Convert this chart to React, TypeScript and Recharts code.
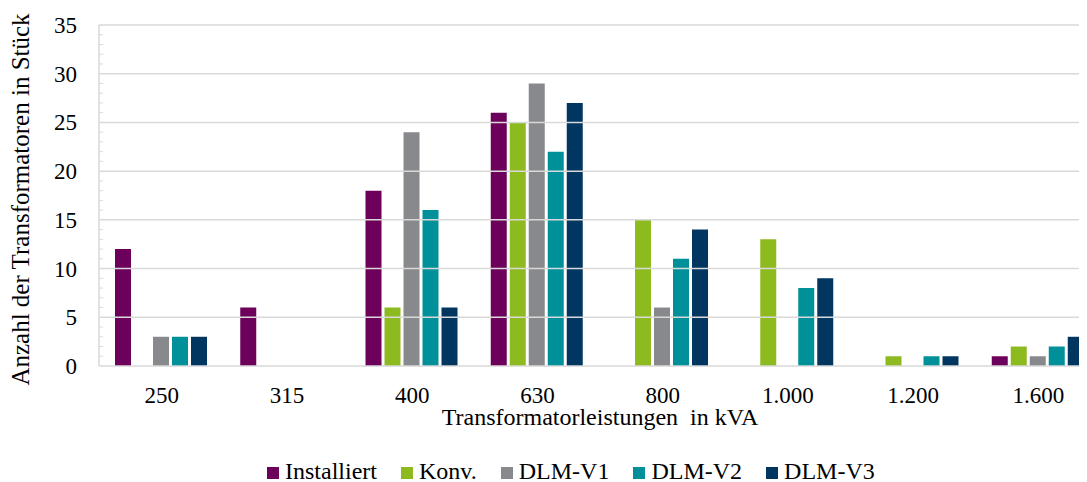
import React from 'react';
import { BarChart, Bar, XAxis, YAxis, ReferenceLine, Legend } from 'recharts';

const categories = ['250', '315', '400', '630', '800', '1.000', '1.200', '1.600'];
const installiert = [12, 6, 18, 26, 0, 0, 0, 1];
const konv = [0, 0, 6, 25, 15, 13, 1, 2];
const dlmV1 = [3, 0, 24, 29, 6, 0, 0, 1];
const dlmV2 = [3, 0, 16, 22, 11, 8, 1, 2];
const dlmV3 = [3, 0, 6, 27, 14, 9, 1, 3];
const yTicks = Array.from({ length: 36 }, (_, i) => i);
const gridValues = [5, 10, 15, 20, 25, 30, 35];

const seriesNames = ['Installiert', 'Konv.', 'DLM-V1', 'DLM-V2', 'DLM-V3'];
const seriesKeys = ['inst', 'konv', 'v1', 'v2', 'v3'];
const colors = ['#6C005A', '#8DBA1F', '#88898D', '#00909A', '#003660'];

const data = categories.map((name, i) => ({
  name,
  inst: installiert[i],
  konv: konv[i],
  v1: dlmV1[i],
  v2: dlmV2[i],
  v3: dlmV3[i],
}));

const FONT = '"Liberation Serif", "Times New Roman", serif';
const GRID = '#D9D9D9';
const Y_TICK_GAP = 22;

const YTick = (props: any) => {
  const { x, y, payload } = props;
  const v = payload.value;
  const lineX = x + Y_TICK_GAP;
  return (
    <g>
      {v % 5 !== 0 && <line x1={lineX} x2={lineX + 4} y1={y} y2={y} stroke={GRID} strokeWidth={1} />}
      {v % 5 === 0 && (
        <text x={x} y={y} dy={8} textAnchor="end" fontFamily={FONT} fontSize={23} fill="#000">
          {v}
        </text>
      )}
    </g>
  );
};

const LegendContent = () => (
  <div
    style={{
      display: 'flex',
      justifyContent: 'flex-start',
      fontFamily: FONT,
      fontSize: 24,
      color: '#000',
      height: 24,
      alignItems: 'center',
      paddingLeft: 259,
      transform: 'translateY(1px)',
      whiteSpace: 'nowrap',
    }}
  >
    {seriesNames.map((n, i) => (
      <div key={n} style={{ display: 'flex', alignItems: 'center', marginRight: i < seriesNames.length - 1 ? 24 : 0 }}>
        <div style={{ width: 12, height: 12, background: colors[i], marginRight: 6, transform: 'translateY(2px)' }} />
        <span>{n}</span>
      </div>
    ))}
  </div>
);

export default function App() {
  return (
    <div style={{ width: 1079, height: 474, overflow: 'hidden' }}>
      <BarChart
        width={1093}
        height={474}
        data={data}
        margin={{ top: 17, right: 0, left: 0, bottom: 0 }}
        barCategoryGap={16}
        barGap={3}
      >
        {gridValues.map((v) => (
          <ReferenceLine key={v} y={v} stroke={GRID} strokeWidth={1.5} ifOverflow="extendDomain" />
        ))}
        <XAxis
          dataKey="name"
          tickLine={false}
          axisLine={{ stroke: GRID, strokeWidth: 1.5 }}
          tick={{ fontFamily: FONT, fontSize: 23, fill: '#000' }}
          tickMargin={15}
          height={92}
          label={{
            value: 'Transformatorleistungen\u00a0\u00a0in kVA',
            position: 'insideBottom',
            offset: 33,
            style: { fontFamily: FONT, fontSize: 24, fill: '#000' },
          }}
        />
        <YAxis
          width={91}
          domain={[0, 35]}
          ticks={yTicks}
          interval={0}
          tickLine={false}
          tickSize={0}
          tickMargin={Y_TICK_GAP}
          axisLine={{ stroke: GRID, strokeWidth: 1.5 }}
          tick={<YTick />}
          label={{
            value: 'Anzahl der Transformatoren in Stück',
            angle: -90,
            position: 'center',
            dx: -33,
            dy: 4,
            style: { fontFamily: FONT, fontSize: 25, fill: '#000' },
          }}
        />
        <Legend verticalAlign="bottom" height={24} content={<LegendContent />} />
        {seriesKeys.map((k, i) => (
          <Bar key={k} dataKey={k} name={seriesNames[i]} fill={colors[i]} isAnimationActive={false} />
        ))}
      </BarChart>
    </div>
  );
}
